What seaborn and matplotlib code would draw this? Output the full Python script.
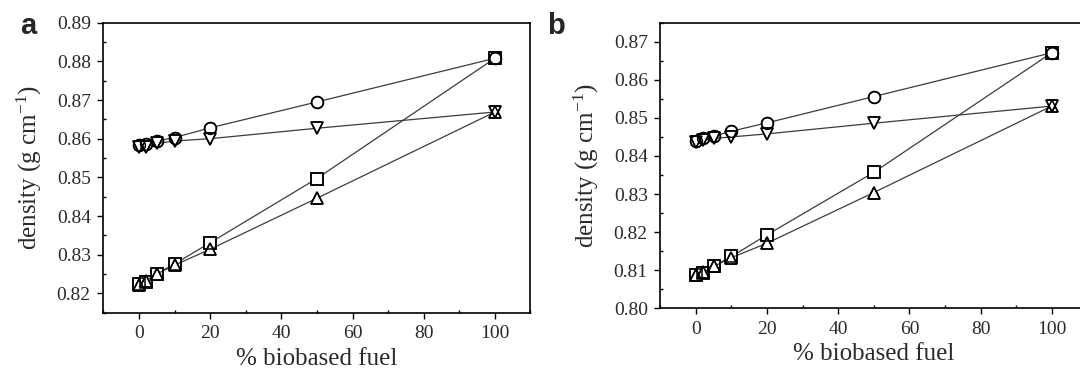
import matplotlib
matplotlib.use('Agg')
import matplotlib.pyplot as plt
import pandas as pd
import seaborn as sns
from matplotlib.ticker import MultipleLocator

# % biobased fuel in the blend
blend_pct = [0, 2, 5, 10, 20, 50, 100]

# panel a densities (g cm-1)
a_circle = [0.8583, 0.8585, 0.8594, 0.8603, 0.8628, 0.8695, 0.8808]
a_down = [0.8578, 0.8579, 0.8588, 0.8594, 0.8600, 0.8627, 0.8669]
a_square = [0.8225, 0.8230, 0.8251, 0.8276, 0.8331, 0.8497, 0.8808]
a_up = [0.8222, 0.8233, 0.8250, 0.8273, 0.8314, 0.8446, 0.8669]

# panel b densities
b_circle = [0.8440, 0.8448, 0.8452, 0.8465, 0.8487, 0.8556, 0.8671]
b_down = [0.8437, 0.8441, 0.8446, 0.8450, 0.8458, 0.8486, 0.8531]
b_square = [0.8087, 0.8093, 0.8111, 0.8136, 0.8193, 0.8357, 0.8671]
b_up = [0.8088, 0.8095, 0.8110, 0.8133, 0.8171, 0.8304, 0.8531]

y_ticks_a = [0.82, 0.83, 0.84, 0.85, 0.86, 0.87, 0.88, 0.89]
y_ticks_b = [0.80, 0.81, 0.82, 0.83, 0.84, 0.85, 0.86, 0.87]
x_ticks = [0, 20, 40, 60, 80, 100]

MARKERS = {'circle': 'o', 'down': 'v', 'square': 's', 'up': '^'}
TEXT_COLOR = '#2a2a2a'


def draw_panel(ax, series, yticks, ylim):
    frames = {name: pd.DataFrame({'pct': blend_pct, 'density': vals}) for name, vals in series.items()}
    # lines with white-filled markers so the lines stop at each symbol
    for name, df in frames.items():
        sns.lineplot(data=df, x='pct', y='density', ax=ax, marker=MARKERS[name],
                     markersize=8.5, markerfacecolor='white', markeredgecolor='black',
                     markeredgewidth=1.1, color='#3c3c3c', linewidth=0.9, zorder=2)
    # outlines on top so overlapping symbols all stay visible
    for name, df in frames.items():
        sns.lineplot(data=df, x='pct', y='density', ax=ax, marker=MARKERS[name],
                     markersize=8.5, markerfacecolor='none', markeredgecolor='black',
                     markeredgewidth=1.1, linestyle='', zorder=3)
    ax.set_xlim(-10, 110)
    ax.set_ylim(*ylim)
    ax.set_xticks(x_ticks)
    ax.set_yticks(yticks)
    ax.set_yticklabels([f'{t:.2f}' for t in yticks])
    ax.xaxis.set_minor_locator(MultipleLocator(10))
    ax.yaxis.set_minor_locator(MultipleLocator(0.005))
    ax.tick_params(which='major', direction='out', length=4, width=1, labelsize=14,
                   color='black', labelcolor=TEXT_COLOR, pad=5)
    ax.tick_params(which='minor', direction='in', length=2.5, width=1, color='black')
    ax.tick_params(top=False, right=False, which='both')
    for sp in ax.spines.values():
        sp.set_visible(True)
        sp.set_color('black')
        sp.set_linewidth(1.2)
    ax.set_xlabel('% biobased fuel', fontsize=18, labelpad=4, color=TEXT_COLOR)
    ax.set_ylabel('density (g cm$^{-1}$)', fontsize=18, labelpad=9, color=TEXT_COLOR)
    ax.grid(False)


def main() -> None:
    sns.set_theme(style='ticks')
    plt.rcParams['font.family'] = ['Liberation Serif', 'DejaVu Serif']
    plt.rcParams['mathtext.fontset'] = 'custom'
    plt.rcParams['mathtext.rm'] = 'Liberation Serif'
    plt.rcParams['mathtext.it'] = 'Liberation Serif'

    fig = plt.figure(figsize=(10.8, 3.7), dpi=100)
    ax_a = fig.add_axes([0.0957, 0.1549, 0.3955, 0.7838])
    ax_b = fig.add_axes([0.6114, 0.1668, 0.3954, 0.7719])

    draw_panel(ax_a, {'square': a_square, 'up': a_up, 'circle': a_circle, 'down': a_down},
               y_ticks_a, (0.815, 0.89))
    draw_panel(ax_b, {'square': b_square, 'up': b_up, 'circle': b_circle, 'down': b_down},
               y_ticks_b, (0.80, 0.875))

    fig.text(0.026, 0.93, 'a', fontsize=21, fontweight='bold', family='Liberation Sans',
             ha='center', va='center')
    fig.text(0.515, 0.93, 'b', fontsize=21, fontweight='bold', family='Liberation Sans',
             ha='center', va='center')

    fig.savefig('out.png', dpi=100, facecolor='white')
    plt.close(fig)


if __name__ == '__main__':
    main()
